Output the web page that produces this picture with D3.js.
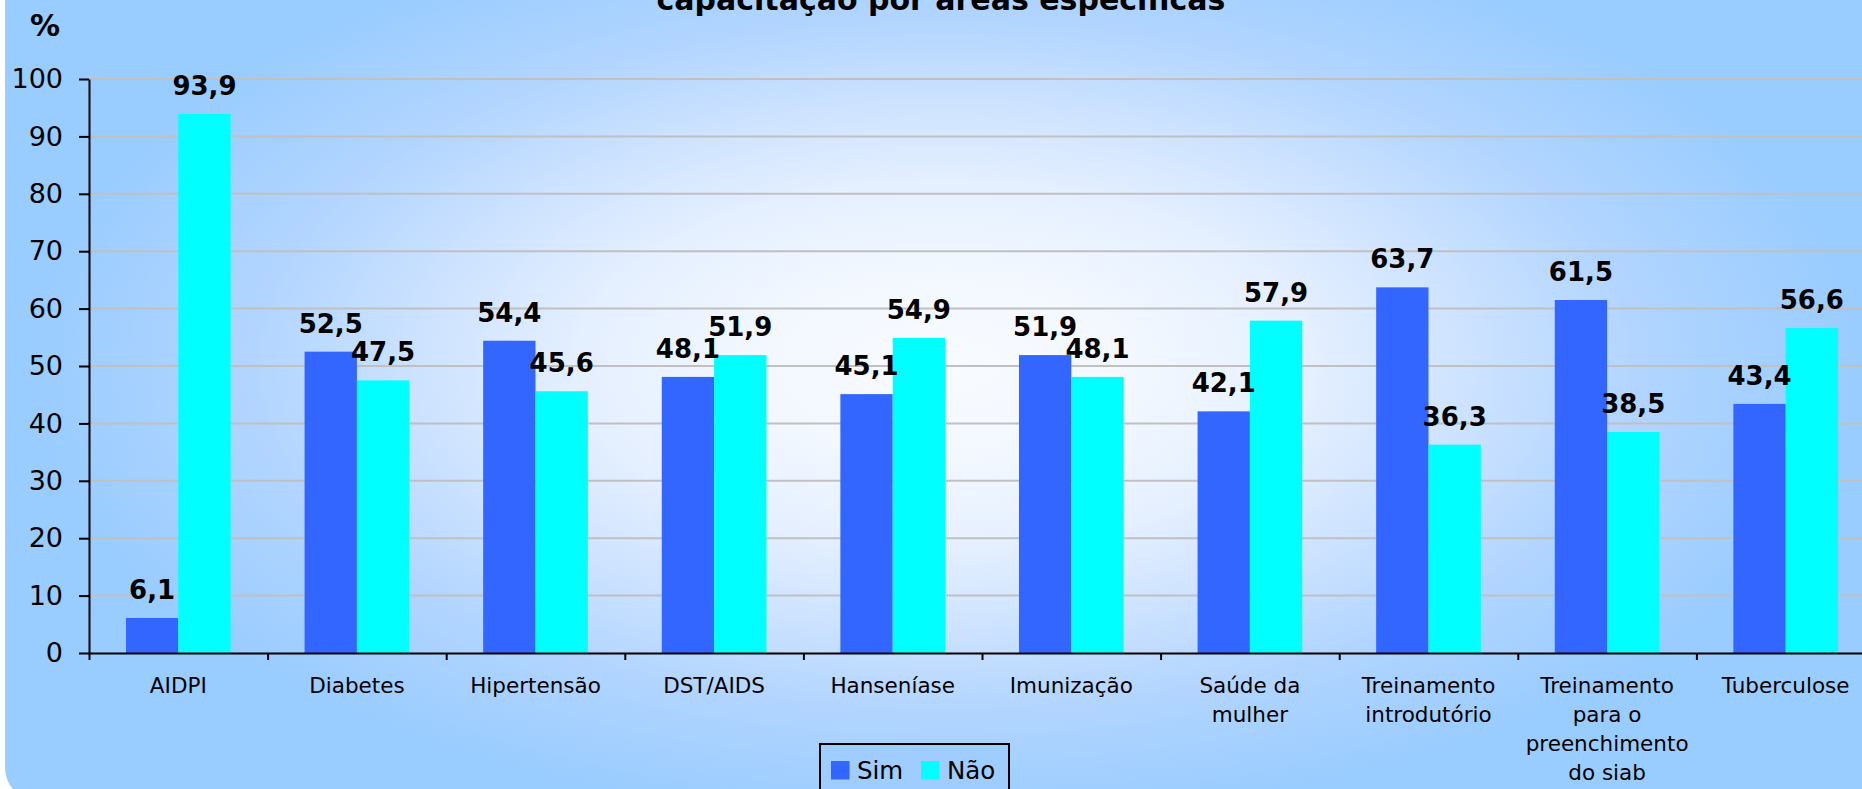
<!DOCTYPE html>
<html>
<head>
<meta charset="utf-8">
<script src="https://cdn.jsdelivr.net/npm/d3@7"></script>
<style>
  html, body { margin: 0; padding: 0; background: #ffffff; }
  svg { display: block; font-family: Verdana, "DejaVu Sans", sans-serif; }
</style>
</head>
<body>
<figure id="chart" style="margin:0"></figure>
<script>
// chart data
const categories = ['AIDPI', 'Diabetes', 'Hipertensão', 'DST/AIDS', 'Hanseníase', 'Imunização',
  'Saúde da\nmulher', 'Treinamento\nintrodutório', 'Treinamento\npara o\npreenchimento\ndo siab', 'Tuberculose'];
const seriesNames = ['Sim', 'Não'];
const simValues = [6.1, 52.5, 54.4, 48.1, 45.1, 51.9, 42.1, 63.7, 61.5, 43.4];
const naoValues = [93.9, 47.5, 45.6, 51.9, 54.9, 48.1, 57.9, 36.3, 38.5, 56.6];
const yTicks = [0, 10, 20, 30, 40, 50, 60, 70, 80, 90, 100];
const colors = ['#3366ff', '#00ffff'];
const titleText = 'capacitação por áreas específicas';

const width = 1862;
const height = 789;
const plot = { left: 89, right: 1875, top: 79, bottom: 653 };

const svg = d3.select('figure#chart')
  .append('svg')
  .attr('width', width)
  .attr('height', height);

// background gradient (light in the middle, blue at the edges)
const defs = svg.append('defs');
const grad = defs.append('radialGradient')
  .attr('id', 'bg')
  .attr('gradientUnits', 'userSpaceOnUse')
  .attr('cx', 945).attr('cy', 365)
  .attr('r', 920)
  .attr('gradientTransform', 'translate(945,365) scale(1,0.5) translate(-945,-365)');
[[0, '#f8fbff'], [0.2, '#f3f8ff'], [0.4, '#e4efff'], [0.55, '#d0e4ff'],
  [0.75, '#b2d5ff'], [1, '#99ccff']].forEach(s => {
  grad.append('stop').attr('offset', s[0]).attr('stop-color', s[1]);
});

svg.append('rect')
  .attr('x', 5).attr('y', -40)
  .attr('width', 1920).attr('height', 840)
  .attr('rx', 32).attr('ry', 32)
  .attr('fill', 'url(#bg)');

// scales
const x = d3.scaleBand()
  .domain(categories)
  .range([plot.left, plot.right])
  .paddingInner(0.414)
  .paddingOuter(0.207);

const xs = d3.scaleBand()
  .domain(seriesNames)
  .range([0, x.bandwidth()]);

const y = d3.scaleLinear()
  .domain([0, 100])
  .range([plot.bottom, plot.top]);

// gridlines
svg.append('g')
  .selectAll('line')
  .data(yTicks.filter(d => d > 0))
  .join('line')
  .attr('x1', plot.left).attr('x2', width)
  .attr('y1', d => y(d)).attr('y2', d => y(d))
  .attr('stroke', '#c0c0c0')
  .attr('stroke-width', 2);

// bars
const rows = categories.map((c, i) => ({ cat: c, values: [simValues[i], naoValues[i]] }));

const groups = svg.append('g')
  .selectAll('g')
  .data(rows)
  .join('g')
  .attr('transform', d => `translate(${x(d.cat)},0)`);

groups.selectAll('rect')
  .data(d => d.values.map((v, j) => ({ s: seriesNames[j], v: v, j: j })))
  .join('rect')
  .attr('x', d => xs(d.s))
  .attr('width', xs.bandwidth())
  .attr('y', d => y(d.v))
  .attr('height', d => y(0) - y(d.v))
  .attr('fill', d => colors[d.j]);

// y axis
const yAxis = svg.append('g')
  .attr('transform', `translate(${plot.left},0)`)
  .call(d3.axisLeft(y).tickValues(yTicks).tickSize(10).tickSizeOuter(0).tickPadding(16));
yAxis.select('.domain').attr('stroke', '#000').attr('stroke-width', 2);
yAxis.selectAll('.tick line').attr('stroke', '#000').attr('stroke-width', 2);
yAxis.selectAll('.tick text')
  .attr('fill', '#000')
  .attr('font-size', 27)
  .attr('font-family', 'Verdana, "DejaVu Sans", sans-serif');

// x axis: ticks at category boundaries
const xb = d3.scaleLinear().domain([0, categories.length]).range([plot.left, plot.right]);
const xAxis = svg.append('g')
  .attr('transform', `translate(0,${plot.bottom})`)
  .call(d3.axisBottom(xb).tickValues(d3.range(0, categories.length + 1)).tickSize(7).tickSizeOuter(0).tickFormat(''));
xAxis.select('.domain').attr('stroke', '#000').attr('stroke-width', 2);
xAxis.selectAll('.tick line').attr('stroke', '#000').attr('stroke-width', 2);

// category labels
svg.append('g')
  .selectAll('text')
  .data(categories)
  .join('text')
  .attr('text-anchor', 'middle')
  .attr('font-size', 21.5)
  .attr('fill', '#000')
  .each(function (d) {
    const t = d3.select(this);
    d.split('\n').forEach((line, k) => {
      t.append('tspan')
        .attr('x', x(d) + x.bandwidth() / 2)
        .attr('y', 693 + k * 29)
        .text(line);
    });
  });

// value labels
groups.selectAll('text')
  .data(d => d.values.map((v, j) => ({ s: seriesNames[j], v: v })))
  .join('text')
  .attr('x', d => xs(d.s) + xs.bandwidth() / 2)
  .attr('y', d => y(d.v) - 19)
  .attr('text-anchor', 'middle')
  .attr('font-size', 26)
  .attr('font-weight', 'bold')
  .attr('fill', '#000')
  .text(d => d3.format('.1f')(d.v).replace('.', ','));

// title (upper part out of frame, as in the original)
svg.append('text')
  .attr('x', 941)
  .attr('y', 10)
  .attr('text-anchor', 'middle')
  .attr('font-size', 30)
  .attr('font-weight', 'bold')
  .attr('fill', '#000')
  .text(titleText);

// unit label
svg.append('text')
  .attr('x', 30)
  .attr('y', 36)
  .attr('font-size', 30)
  .attr('font-weight', 'bold')
  .attr('fill', '#000')
  .text('%');

// legend
const legend = svg.append('g').attr('transform', 'translate(820,744)');
legend.append('rect')
  .attr('x', 0).attr('y', 0)
  .attr('width', 189).attr('height', 60)
  .attr('fill', '#9fcdff')
  .attr('stroke', '#000')
  .attr('stroke-width', 2);
const legendX = [11, 101];
const item = legend.selectAll('g.item')
  .data(seriesNames)
  .join('g')
  .attr('class', 'item')
  .attr('transform', (d, i) => `translate(${legendX[i]},17)`);
item.append('rect')
  .attr('width', 18.5).attr('height', 18.5)
  .attr('fill', (d, i) => colors[i]);
item.append('text')
  .attr('x', 26)
  .attr('y', 18)
  .attr('font-size', 24.5)
  .attr('fill', '#000')
  .text(d => d);
</script>
</body>
</html>
